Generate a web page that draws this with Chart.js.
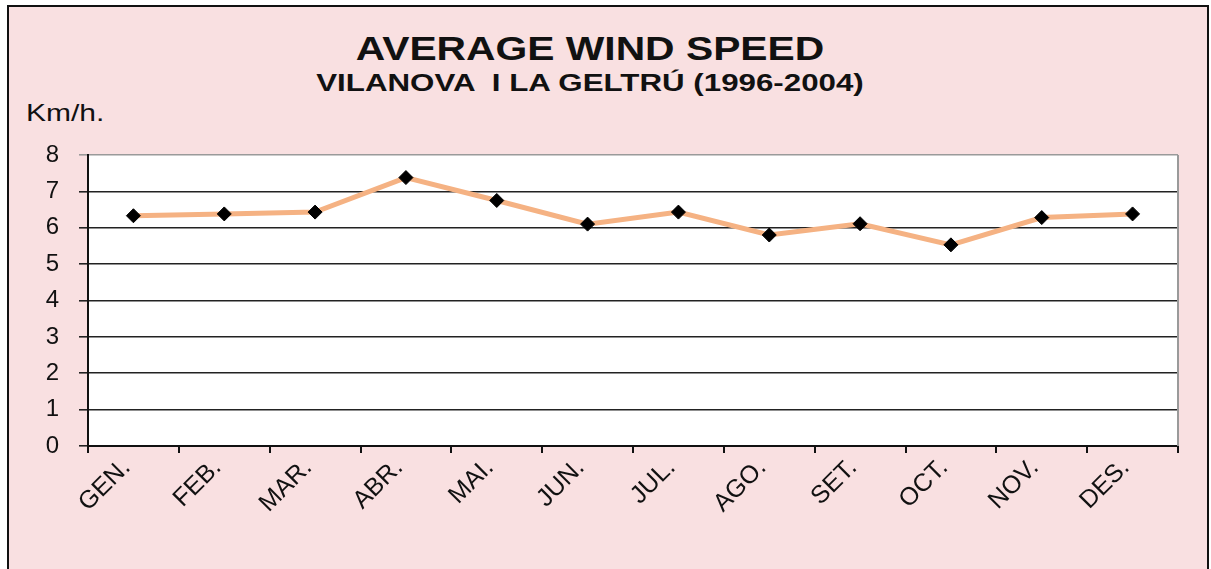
<!doctype html>
<html lang="en">
  <head>
    <meta charset="UTF-8" />
    <title>Average Wind Speed</title>
    <script src="https://cdn.jsdelivr.net/npm/chart.js"></script>
    <style>
      body {
        margin: 0;
        background: #fff;
        overflow: hidden;
        font-family: "Liberation Sans", Arial, sans-serif;
      }
      .frame {
        position: absolute;
        left: 7px;
        top: 5px;
        width: 1198px;
        height: 580px;
        background: #f9e0e1;
        border: 2px solid #111;
      }
      .txt {
        position: absolute;
        line-height: 1;
        color: #111;
        white-space: pre;
      }
      .title {
        left: 0;
        width: 1180px;
        text-align: center;
        font-weight: bold;
        transform-origin: 590px 0;
      }
      #chart-box {
        position: absolute;
        left: 0;
        top: 0;
        width: 1211px;
        height: 569px;
      }
    </style>
  </head>
  <body>
    <div class="frame"></div>
    <div class="txt title" style="top: 31px; font-size: 34px; transform: scaleX(1.2)">AVERAGE WIND SPEED</div>
    <div class="txt title" style="top: 72px; font-size: 23px; transform: scaleX(1.36)">VILANOVA  I LA GELTRÚ (1996-2004)</div>
    <div class="txt" style="left: 26px; top: 101px; font-size: 24px; transform: scaleX(1.25); transform-origin: 0 0">Km/h.</div>
    <div id="chart-box"><canvas id="windChart" width="1211" height="569"></canvas></div>

    <script>
      const months = ["GEN.", "FEB.", "MAR.", "ABR.", "MAI.", "JUN.", "JUL.", "AGO.", "SET.", "OCT.", "NOV.", "DES."];
      const windSpeed = [6.33, 6.38, 6.43, 7.38, 6.75, 6.1, 6.43, 5.8, 6.11, 5.53, 6.28, 6.38];
      const yMin = 0;
      const yMax = 8;

      // white plot area + grey right edge like the original
      const plotFrame = {
        id: "plotFrame",
        beforeDraw(chart) {
          const { ctx, chartArea: a } = chart;
          ctx.save();
          ctx.fillStyle = "#fff";
          ctx.fillRect(a.left, a.top, a.right - a.left, a.bottom - a.top);
          ctx.restore();
        },
        afterDraw(chart) {
          const { ctx, chartArea: a } = chart;
          ctx.save();
          ctx.strokeStyle = "#9a9a9a";
          ctx.lineWidth = 2;
          ctx.beginPath();
          ctx.moveTo(a.right, a.top);
          ctx.lineTo(a.right, a.bottom);
          ctx.stroke();
          ctx.restore();
        },
      };

      new Chart(document.getElementById("windChart"), {
        type: "line",
        data: {
          labels: months,
          datasets: [
            {
              data: windSpeed,
              borderColor: "#f5b283",
              borderWidth: 5,
              pointStyle: "rectRot",
              pointRadius: 7,
              pointBackgroundColor: "#000",
              pointBorderColor: "#000",
              pointBorderWidth: 1,
              tension: 0,
            },
          ],
        },
        options: {
          responsive: false,
          animation: false,
          layout: { padding: { top: 155, right: 33, left: 0, bottom: 0 } },
          plugins: {
            legend: { display: false },
            tooltip: { enabled: false },
          },
          scales: {
            x: {
              offset: true,
              afterFit: (s) => { s.height = 123; },
              grid: {
                offset: true,
                drawOnChartArea: false,
                color: "#111",
                lineWidth: 2,
                tickLength: 7,
              },
              border: { color: "#111", width: 2 },
              ticks: {
                color: "#111",
                font: { family: "Liberation Sans", size: 25 },
                maxRotation: 45,
                minRotation: 45,
                padding: 0,
                labelOffset: -7,
              },
            },
            y: {
              min: yMin,
              max: yMax,
              afterFit: (s) => { s.width = 88; },
              grid: {
                color: (c) => (c.tick && c.tick.value === yMax ? "#9a9a9a" : "#222"),
                lineWidth: 1.6,
                tickLength: 9,
              },
              border: { color: "#111", width: 2 },
              ticks: {
                stepSize: 1,
                color: "#111",
                font: { family: "Liberation Sans", size: 24 },
                padding: 20,
              },
            },
          },
        },
        plugins: [plotFrame],
      });
    </script>
  </body>
</html>
